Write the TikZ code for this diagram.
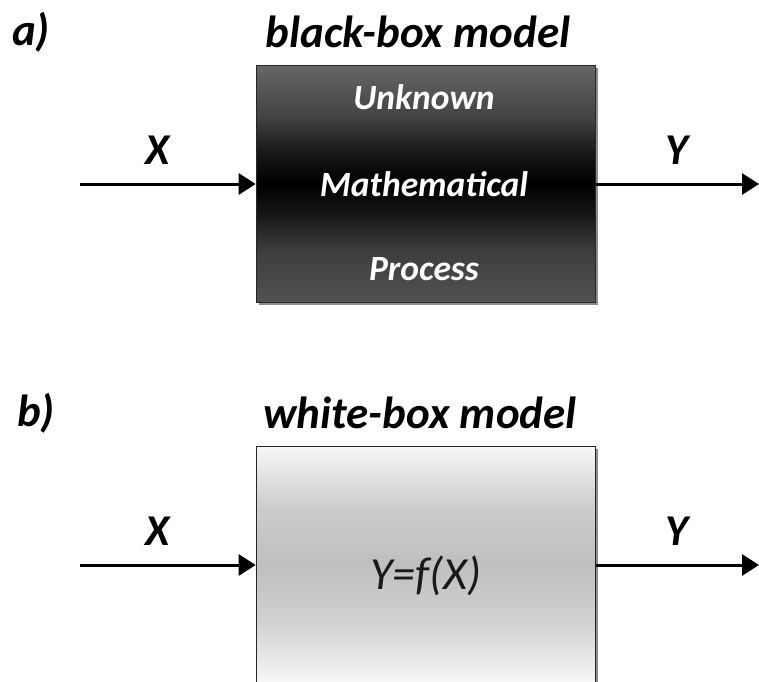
\documentclass[tikz,border=0pt]{standalone}
\usepackage{fontspec}
\setmainfont{Carlito}
\usetikzlibrary{shadows,arrows.meta}
\pgfdeclareverticalshading{bbshade}{100bp}{color(0bp)=(black!68); color(25bp)=(black!68); color(36bp)=(black!76); color(44bp)=(black!92); color(50bp)=(black); color(56bp)=(black!92); color(64bp)=(black!74); color(75bp)=(black!60); color(100bp)=(black!60)}
\pgfdeclareverticalshading{wbshade}{100bp}{color(0bp)=(white); color(25bp)=(white!97!black); color(38bp)=(black!18); color(50bp)=(black!25); color(62bp)=(black!20); color(75bp)=(white!97!black); color(100bp)=(white)}
\begin{document}
\begin{tikzpicture}[x=1pt,y=-1pt,
  title/.style={font=\fontsize{45}{50}\selectfont\bfseries\itshape, inner sep=0pt},
  lab/.style={font=\fontsize{44}{50}\selectfont\bfseries\itshape, inner sep=0pt},
  intext/.style={font=\fontsize{35.5}{40}\selectfont\bfseries\itshape, text=white, inner sep=0pt},
  fxtext/.style={font=\fontsize{46}{52}\selectfont\itshape, text=black!90, inner sep=0pt},
  boxbase/.style={draw=black!85, line width=1.6pt, minimum width=339pt, minimum height=237pt, inner sep=0pt,
     drop shadow={shadow xshift=2.5pt, shadow yshift=-2.5pt, opacity=0.45, fill=black}},
  blackbox/.style={boxbase, shading=bbshade},
  whitebox/.style={boxbase, shading=wbshade},
  arr/.style={line width=3pt, -{Triangle[length=17pt,width=21pt]}}
]
\useasboundingbox (0,0) rectangle (759,681);
% a) black-box
\node[title] (ta) at (31,32) {a)};
\node[title] (tbb) at (418,32) {black-box model};
\node[blackbox] (bb) at (426,184) {};
\node[intext] (u1) at (424,97) {Unknown};
\node[intext] (u2) at (424,184) {Mathematical};
\node[intext] (u3) at (424,269) {Process};
\node[lab] (xa) at (158,150) {X};
\node[lab] (ya) at (677,150) {Y};
\coordinate (ina) at (80,184);
\coordinate (outa) at (759,184);
\draw[arr] (ina) -- (bb.west);
\draw[arr] (bb.east) -- (outa);
% b) white-box
\node[title] (tb) at (36,413) {b)};
\node[title] (twb) at (420,413) {white-box model};
\node[whitebox] (wb) at (426,565) {};
\node[fxtext] (fx) at (426,576) {Y=f(X)};
\node[lab] (xb) at (158,531) {X};
\node[lab] (yb) at (677,531) {Y};
\coordinate (inb) at (80,565);
\coordinate (outb) at (759,565);
\draw[arr] (inb) -- (wb.west);
\draw[arr] (wb.east) -- (outb);
\end{tikzpicture}
\end{document}
